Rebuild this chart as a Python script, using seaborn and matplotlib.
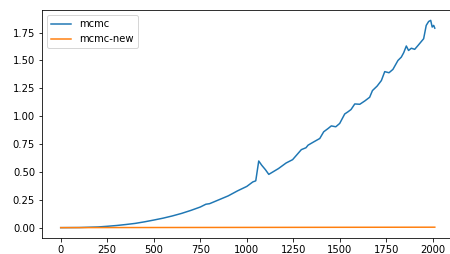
import matplotlib
matplotlib.use("Agg")
import matplotlib.pyplot as plt
import seaborn as sns
import pandas as pd

# values
steps = [0, 100, 200, 250, 300, 350, 400, 450, 500, 550, 600, 650, 700, 750, 780, 800,
         850, 900, 950, 1000, 1032, 1048, 1064, 1080, 1100, 1118, 1140, 1170, 1211, 1246,
         1293, 1318, 1329, 1360, 1392, 1413, 1437, 1454, 1478, 1499, 1526, 1544, 1560,
         1580, 1607, 1634, 1660, 1675, 1700, 1723, 1741, 1764, 1785, 1812, 1830, 1843,
         1857, 1869, 1884, 1902, 1920, 1950, 1964, 1977, 1988, 1996, 2004, 2010]
mcmc = [0.0, 0.001, 0.006, 0.012, 0.019, 0.028, 0.038, 0.052, 0.068, 0.085, 0.105, 0.128,
        0.155, 0.185, 0.21, 0.215, 0.25, 0.285, 0.33, 0.37, 0.41, 0.42, 0.598, 0.56, 0.52,
        0.478, 0.50, 0.53, 0.58, 0.61, 0.70, 0.717, 0.74, 0.77, 0.80, 0.86, 0.89, 0.913,
        0.905, 0.935, 1.02, 1.04, 1.06, 1.11, 1.107, 1.137, 1.17, 1.23, 1.27, 1.32, 1.40,
        1.39, 1.42, 1.50, 1.53, 1.57, 1.63, 1.59, 1.61, 1.60, 1.635, 1.695, 1.815, 1.85,
        1.86, 1.80, 1.815, 1.79]
new_steps = [0, 500, 1000, 1500, 2010]
mcmc_new = [0.0, 0.001, 0.002, 0.003, 0.004]

df_a = pd.DataFrame({"step": steps, "value": mcmc})
df_b = pd.DataFrame({"step": new_steps, "value": mcmc_new})

fig = plt.figure(figsize=(450 / 72, 254 / 72), dpi=72)
ax = fig.add_axes([42 / 450, 16 / 254, 411.5 / 450, 228 / 254])

sns.lineplot(data=df_a, x="step", y="value", ax=ax, color="tab:blue", label="mcmc")
sns.lineplot(data=df_b, x="step", y="value", ax=ax, color="tab:orange", label="mcmc-new")

ax.set_xlabel("")
ax.set_ylabel("")
ax.set_xticks([0, 250, 500, 750, 1000, 1250, 1500, 1750, 2000])
ax.set_yticks([0, 0.25, 0.5, 0.75, 1.0, 1.25, 1.5, 1.75])
ax.legend(loc="upper left")

fig.savefig("out.png", dpi=72)
